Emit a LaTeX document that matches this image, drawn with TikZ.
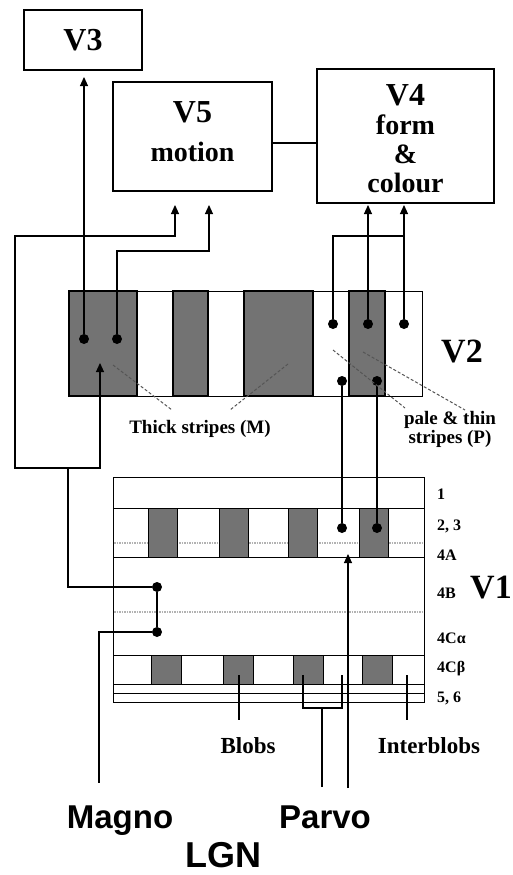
\documentclass[tikz,border=0pt]{standalone}
\usepackage{fontspec}
\setmainfont{Liberation Serif}
\newfontfamily\lgnfont{Liberation Sans}
\usetikzlibrary{arrows.meta, positioning, calc}
\definecolor{stripegray}{RGB}{115,115,115}
\definecolor{dashgray}{RGB}{85,85,85}

\begin{document}
\begin{tikzpicture}[
    x=1pt, y=-1pt,
    every node/.style={font=\bfseries, align=center},
    areabox/.style={draw, line width=1.1pt, inner sep=0pt},
    fiberdot/.style={circle, fill=black, inner sep=0pt, minimum size=10pt},
    arr/.style={-{Triangle[length=9pt, width=8pt]}, line width=1.1pt},
    arrboth/.style={{Triangle[length=9pt, width=8pt]}-{Triangle[length=9pt, width=8pt]}, line width=1.1pt},
    wire/.style={line width=1.1pt},
    pointer/.style={dash pattern=on 3pt off 2pt, line width=1pt, color=dashgray},
    layerline/.style={line width=0.9pt},
    dotline/.style={line width=1.4pt, color=gray!60, dash pattern=on 1.5pt off 1pt},
    layerlab/.style={anchor=base west, inner sep=0pt, font=\fontsize{16}{16}\selectfont\bfseries},
    arealab/.style={anchor=base, inner sep=0pt, font=\fontsize{34}{34}\selectfont\bfseries},
    notelab/.style={anchor=base, inner sep=0pt, font=\fontsize{19}{16}\selectfont\bfseries},
    pathlab/.style={anchor=base, inner sep=0pt, font=\lgnfont\fontsize{33}{33}\selectfont\bfseries}
]
\useasboundingbox (0,0) rectangle (512,875);

% Higher areas
\node[areabox, minimum width=118pt, minimum height=60pt, font=\fontsize{32}{32}\selectfont\bfseries] (v3) at (83,40) {V3};
\node[areabox, minimum width=159pt, minimum height=109pt, text depth=10pt, font=\fontsize{28}{39}\selectfont\bfseries] (v5) at (192.5,136.5) {{\fontsize{32}{39}\selectfont V5}\\motion};
\node[areabox, minimum width=177pt, minimum height=134pt, text height=113pt, font=\fontsize{28}{29}\selectfont\bfseries] (v4) at (405.5,136) {{\fontsize{32}{29}\selectfont V4}\\form\\\&\\colour};
\draw[wire] ([yshift=-6.5pt]v5.east) -- ([yshift=-6.5pt]v5.east -| v4.west);

% V2 stripes
\foreach \xa/\xb in {69/137, 173/208, 244/313, 349/385}
    \filldraw[fill=stripegray, line width=1.1pt] (\xa,291) rectangle (\xb,396);
\node[areabox, minimum width=353pt, minimum height=105pt, anchor=north west] (v2) at (69,291) {};
\node[arealab] (v2lab) at (462,362) {V2};

% V1 layers
\node[areabox, minimum width=311pt, minimum height=225pt, anchor=north west] (v1) at (113,477) {};
\foreach \y in {508,557,655,684,693}
    \draw[layerline] (113,\y) -- (424,\y);
\foreach \y in {543,612}
    \draw[dotline] (114,\y) -- (423,\y);
\foreach \xa in {148,219,288,359}
    \filldraw[fill=stripegray, layerline] (\xa,508) rectangle ++(29,49);
\foreach \xa in {151,223,293,362}
    \filldraw[fill=stripegray, layerline] (\xa,655) rectangle ++(30,29);
\node[arealab] (v1lab) at (491,598) {V1};
\foreach \lab/\y in {1/499, {2, 3}/530, 4A/560, 4B/598, 4Cα/643, 4Cβ/672, {5, 6}/702}
    \node[layerlab] (layer-\y) at (437,\y) {\lab};

% Cells
\node[fiberdot] (m1) at (84,339) {};
\node[fiberdot] (m2) at (117,339) {};
\node[fiberdot] (p1) at (333,324) {};
\node[fiberdot] (p2) at (368,324) {};
\node[fiberdot] (p3) at (404,324) {};
\node[fiberdot] (p4) at (342,381) {};
\node[fiberdot] (p5) at (377,381) {};
\node[fiberdot] (b1) at (342,528) {};
\node[fiberdot] (b2) at (377,528) {};
\node[fiberdot] (mb) at (157,587) {};
\node[fiberdot] (mc) at (157,632) {};

% Arrow ends
\coordinate (v3in) at (84,77);
\coordinate (v5in1) at (175,205);
\coordinate (v5in2) at (209,205);
\coordinate (v4in1) at (368,205);
\coordinate (v4in2) at (404,205);
\coordinate (v2in) at (100,363);
\coordinate (mleft) at (15,468);
\coordinate (mjoin) at (68,468);
\coordinate (pjoin) at (404,236);
\coordinate (magno) at (99,783);
\coordinate (parvoin) at (348,554);
\coordinate (parvoa) at (348,788);
\coordinate (parvob) at (322,787);
\coordinate (bracketl) at (303,675);
\coordinate (bracketr) at (342,675);
\coordinate (blobtip) at (239,675);
\coordinate (intertip) at (407,675);

% Magno stream
\draw[arr] (m1) -- (v3in);
\draw[arr] (m2) -- ++(0,-88) -| (v5in2);
\draw[arrboth] (v2in) |- (mleft) -- ++(0,-232) -| (v5in1);
\draw[wire] (mb) -| (mjoin);
\draw[wire] (mb) -- (mc);
\draw[wire] (mc) -| (magno);

% Parvo stream
\draw[wire] (p1) |- (pjoin);
\draw[arr] (p2) -- (v4in1);
\draw[arr] (p3) -- (v4in2);
\draw[wire] (p4) -- (b1);
\draw[wire] (p5) -- (b2);
\draw[arr] (parvoa) -- (parvoin);
\draw[wire] (bracketl) -- ++(0,33) -| (bracketr);
\draw[wire] (parvob) -- ++(0,-79);
\draw[wire] (blobtip) -- ++(0,45);
\draw[wire] (intertip) -- ++(0,45);

% Stripe pointers
\draw[pointer] (113,365) -- (172,410);
\draw[pointer] (288,364) -- (230,410);
\draw[pointer] (333,350) -- (405,408);
\draw[pointer] (363,352) -- (465,410);
\node[notelab] (thick) at (200,433) {Thick stripes (M)};
\node[notelab] (pale) at (450,443) {pale \& thin\\stripes (P)};

% Labels
\node[notelab, font=\fontsize{23}{23}\selectfont\bfseries] (blobs) at (248,753) {Blobs};
\node[notelab, font=\fontsize{23}{23}\selectfont\bfseries] (interblobs) at (429,753) {Interblobs};
\node[pathlab] (magnolab) at (120,828) {Magno};
\node[pathlab] (parvolab) at (325,828) {Parvo};
\node[pathlab, font=\lgnfont\fontsize{36}{36}\selectfont\bfseries] (lgn) at (223,867) {LGN};

\end{tikzpicture}
\end{document}
